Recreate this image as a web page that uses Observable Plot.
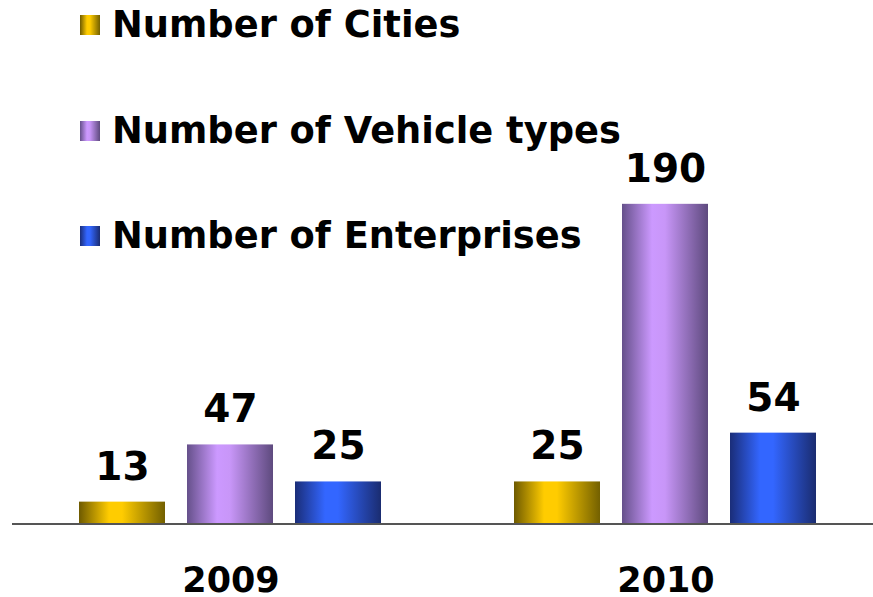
<!DOCTYPE html>
<html>
<head>
<meta charset="utf-8">
<script src="https://cdn.jsdelivr.net/npm/d3@7"></script>
<script src="https://cdn.jsdelivr.net/npm/@observablehq/plot@0.6"></script>
<style>
  body { margin: 0; background: #fff; overflow: hidden; }
  #wrap { position: relative; width: 873px; height: 597px; font-family: "DejaVu Sans", Verdana, sans-serif; }
  #legend { position: absolute; left: 80px; top: 0; }
  .item { position: absolute; left: 0; display: flex; align-items: center; height: 40px; white-space: nowrap;
          font-weight: bold; font-size: 36.8px; line-height: 36px; color: #000; }
  .sw { width: 20px; height: 20px; margin-right: 12px; flex: none; }
</style>
</head>
<body>
<div id="wrap"></div>
<script>
const years = ["2009", "2010"];
const series = ["Number of Cities", "Number of Vehicle types", "Number of Enterprises"];
const values2009 = [13, 47, 25];
const values2010 = [25, 190, 54];

const gradients = [
  {id: "gCities", stops: [["0%", "#6e5a00"], ["35%", "#ffcc00"], ["50%", "#ffcc00"], ["100%", "#736000"]]},
  {id: "gVehicle", stops: [["0%", "#65508a"], ["35%", "#cc99ff"], ["50%", "#c896f8"], ["100%", "#5e4a7e"]]},
  {id: "gEnterprises", stops: [["0%", "#1a2d78"], ["35%", "#3366ff"], ["50%", "#3366ff"], ["100%", "#1a2c70"]]}
];

const data = [];
years.forEach((yr, i) => {
  const vals = i === 0 ? values2009 : values2010;
  series.forEach((s, j) => data.push({year: yr, series: s, value: vals[j]}));
});

const chart = Plot.plot({
  width: 873,
  height: 597,
  marginLeft: 77,
  marginRight: 55,
  marginTop: 187,
  marginBottom: 73.5,
  fx: {domain: years, paddingInner: 0.3, paddingOuter: 0, label: null},
  x: {domain: series, paddingInner: 0.2, paddingOuter: 0, axis: null},
  y: {domain: [0, 200], axis: null},
  color: {domain: series, range: gradients.map(g => `url(#${g.id})`)},
  style: {fontFamily: "DejaVu Sans, Verdana, sans-serif", background: "transparent", overflow: "visible"},
  marks: [
    Plot.barY(data, {fx: "year", x: "series", y: "value", fill: "series"}),
    Plot.ruleY([{year: "2009", v: 0}], {fx: "year", y: "v", stroke: "#555", strokeWidth: 2, insetLeft: -66, insetRight: -491}),
    Plot.text(data, {fx: "year", x: "series", y: "value", text: d => String(d.value), dy: -35,
      fontSize: 39, fontWeight: "bold", fill: "#000"}),
    Plot.axisFx({anchor: "bottom", tickSize: 0, tickPadding: 43, fontSize: 35, fontWeight: "bold", color: "#000", label: null})
  ]
});

const svg = d3.select(chart);
const defs = svg.insert("defs", ":first-child");
gradients.forEach(g => {
  const lg = defs.append("linearGradient").attr("id", g.id).attr("x1", 0).attr("x2", 1).attr("y1", 0).attr("y2", 0);
  g.stops.forEach(([o, c]) => lg.append("stop").attr("offset", o).attr("stop-color", c));
});

const wrap = document.getElementById("wrap");
wrap.appendChild(chart);

const legend = document.createElement("div");
legend.id = "legend";
const tops = [5, 111, 216];
series.forEach((s, i) => {
  const item = document.createElement("div");
  item.className = "item";
  item.style.top = tops[i] + "px";
  const sw = document.createElement("div");
  sw.className = "sw";
  const g = gradients[i];
  sw.style.background = `linear-gradient(to right, ${g.stops.map(([o, c]) => c + " " + o).join(", ")})`;
  const label = document.createElement("span");
  label.textContent = s;
  item.appendChild(sw);
  item.appendChild(label);
  legend.appendChild(item);
});
wrap.appendChild(legend);
</script>
</body>
</html>
